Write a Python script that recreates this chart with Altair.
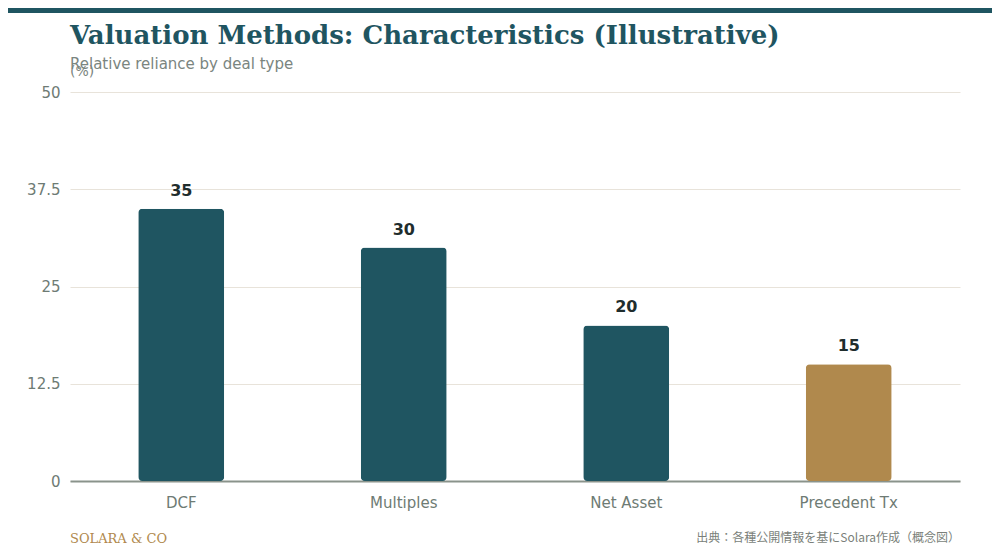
import altair as alt
import pandas as pd

categories = ["DCF", "Multiples", "Net Asset", "Precedent Tx"]
values = [35, 30, 20, 15]
bar_colors = ["#1f5561", "#1f5561", "#1f5561", "#b0894d"]
y_ticks = [0, 12.5, 25, 37.5, 50]

title_text = "Valuation Methods: Characteristics (Illustrative)"
subtitle_text = "Relative reliance by deal type"
unit_text = "(%)"
brand_text = "SOLARA & CO"
source_text = "出典：各種公開情報を基にSolara作成（概念図）"

W, H = 890, 389
PAD_L, PAD_T, PAD_R, PAD_B = 62, 84, 32, 71

df = pd.DataFrame({"method": categories, "value": values, "color": bar_colors})

x_enc = alt.X("method:N", sort=None, title=None,
              scale=alt.Scale(paddingInner=0, paddingOuter=0),
              axis=alt.Axis(labelAngle=0, labelFontSize=15, labelColor="#6e7b74",
                            labelPadding=14, ticks=False, domainColor="#8a938b",
                            domainWidth=2, grid=False, labelFont="DejaVu Sans"))
y_enc = alt.Y("value:Q", title=None,
              scale=alt.Scale(domain=[0, 50], nice=False),
              axis=alt.Axis(values=y_ticks, labelExpr="format(datum.value, '.1~f')",
                            labelFontSize=15, labelColor="#6e7b74", labelPadding=10,
                            ticks=False, domain=False, gridColor="#e8e3da", gridWidth=1,
                            labelFont="DejaVu Sans"))

bars = alt.Chart(df).mark_bar(size=86, cornerRadius=4).encode(
    x=x_enc, y=y_enc, color=alt.Color("color:N", scale=None)
)

labels = alt.Chart(df).mark_text(baseline="bottom", dy=-10, fontSize=16,
                                 fontWeight="bold", color="#1f2d2d",
                                 font="DejaVu Sans").encode(
    x=alt.X("method:N", sort=None), y="value:Q", text="value:Q"
)

one = pd.DataFrame({"a": [0]})

top_band = alt.Chart(one).mark_rect(color="#1f5561").encode(
    x=alt.value(-PAD_L), x2=alt.value(W + PAD_R), y=alt.value(-PAD_T), y2=alt.value(-PAD_T + 5)
)

def txt(s, x, y, size, color, font="DejaVu Sans", weight="normal", align="left"):
    return alt.Chart(one).mark_text(text=s, fontSize=size, color=color, font=font,
                                    fontWeight=weight, align=align,
                                    baseline="alphabetic").encode(
        x=alt.value(x), y=alt.value(y)
    )

title = txt(title_text, 0, -48, 26, "#1f5561", font="DejaVu Serif", weight="bold")
subtitle = txt(subtitle_text, 0, -23, 15, "#7a8580")
unit = txt(unit_text, 0, -16, 14, "#7a8580")
brand = txt(brand_text, 0, 451, 13, "#b0894d", font="DejaVu Serif")
source = txt(source_text, 890, 450, 12, "#7a7f7a", font="Noto Sans CJK JP", align="right")

chart = alt.layer(bars, labels, top_band, title, subtitle, unit, brand, source).properties(
    width=W, height=H,
    autosize=alt.AutoSizeParams(type="none"),
    padding={"left": PAD_L, "top": PAD_T, "right": PAD_R, "bottom": PAD_B},
    background="white",
).configure_view(stroke=None)

chart.save("out.html", embed_options={"renderer": "svg", "actions": False})
